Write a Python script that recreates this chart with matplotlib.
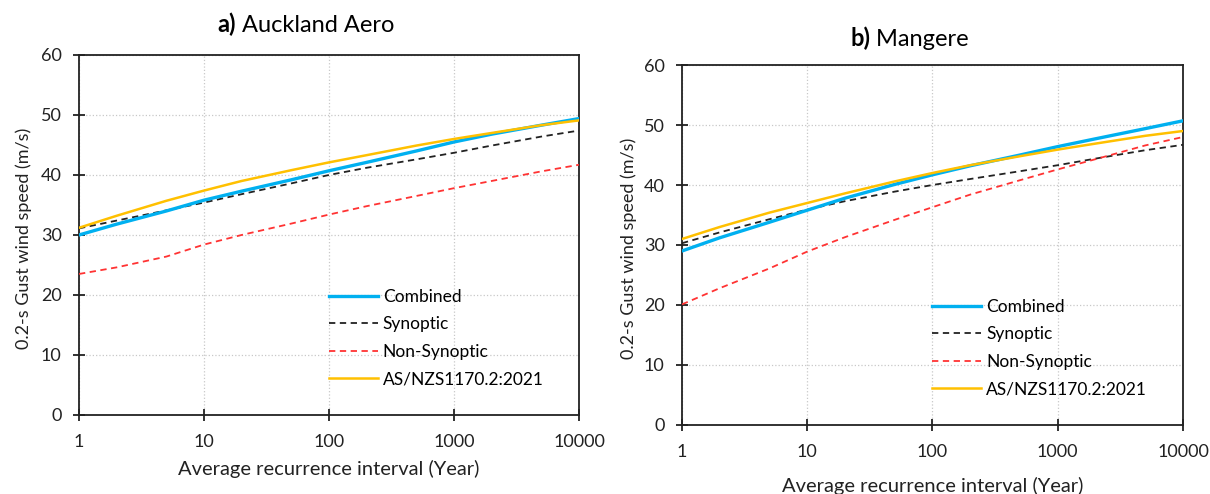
import numpy as np
import matplotlib
matplotlib.use("Agg")
import matplotlib.pyplot as plt

plt.rcParams['font.family'] = ['Lato', 'DejaVu Sans']

# ============================
# data
# ============================
ari = [1, 2, 5, 10, 20, 50, 100, 200, 500, 1000, 2000, 5000, 10000]

# a) Auckland Aero
aa_combined = [30.0, 31.8, 34.0, 35.8, 37.3, 39.2, 40.7, 42.1, 44.0, 45.5, 46.8, 48.3, 49.4]
aa_synoptic = [31.1, 32.4, 34.1, 35.4, 36.8, 38.6, 40.0, 41.2, 42.6, 43.7, 44.9, 46.4, 47.4]
aa_nonsyn = [23.5, 24.6, 26.4, 28.4, 30.0, 31.9, 33.4, 34.8, 36.5, 37.8, 39.0, 40.6, 41.7]
aa_code = [31.2, 33.2, 35.7, 37.4, 39.0, 40.8, 42.1, 43.3, 44.9, 46.0, 47.0, 48.3, 49.1]

# b) Mangere
mg_combined = [29.0, 31.2, 33.8, 35.8, 37.8, 40.1, 41.7, 43.2, 45.0, 46.4, 47.7, 49.4, 50.7]
mg_synoptic = [30.3, 32.1, 34.3, 35.9, 37.3, 38.9, 40.0, 41.0, 42.3, 43.3, 44.4, 45.8, 46.7]
mg_nonsyn = [20.1, 22.8, 26.1, 28.9, 31.3, 34.2, 36.3, 38.4, 40.8, 42.6, 44.3, 46.6, 48.0]
mg_code = [31.0, 33.0, 35.4, 37.0, 38.6, 40.6, 42.0, 43.3, 44.8, 45.9, 46.9, 48.2, 49.0]

x_ticks = [1, 10, 100, 1000, 10000]
y_ticks = [0, 10, 20, 30, 40, 50, 60]

fig = plt.figure(figsize=(12.1, 4.94), dpi=100)
ax1 = fig.add_axes([0.0653, 0.160, 0.4132, 0.7287])
ax2 = fig.add_axes([0.5636, 0.1397, 0.4141, 0.7287])


def draw_panel(ax, comb, syn, nonsyn, code):
    ax.plot(ari, comb, color='#00B0F0', lw=2.4, label='Combined', zorder=4)
    ax.plot(ari, syn, color='#222222', lw=1.3, ls=(0, (3.5, 2.5)), label='Synoptic', zorder=3)
    ax.plot(ari, nonsyn, color='#FF3333', lw=1.3, ls=(0, (3.5, 2.5)), label='Non-Synoptic', zorder=3)
    ax.plot(ari, code, color='#FFC000', lw=1.8, label='AS/NZS1170.2:2021', zorder=5)

    ax.set_xscale('log')
    ax.set_xlim(1, 10000)
    ax.set_ylim(0, 60)
    ax.set_xticks(x_ticks)
    ax.set_xticklabels([str(v) for v in x_ticks])
    ax.xaxis.set_minor_locator(plt.NullLocator())
    ax.set_yticks(y_ticks)
    ax.tick_params(axis='both', direction='inout', length=9, width=1.3,
                   labelsize=13, colors='#222222')
    ax.tick_params(axis='x', pad=9)
    ax.tick_params(axis='y', pad=8)
    ax.grid(True, color='#C8C8C8', ls=':', lw=0.9)
    for s in ax.spines.values():
        s.set_linewidth(1.3)
        s.set_color('#222222')

    ax.set_xlabel('Average recurrence interval (Year)', fontsize=14.5, color='#222222')
    ax.set_ylabel('0.2-s Gust wind speed (m/s)', fontsize=13, color='#222222')

    ax.legend(loc='upper left', bbox_to_anchor=(0.5, 0.35), frameon=False,
              fontsize=12.5, handlelength=2.8, handletextpad=0.3,
              labelspacing=0.66, borderpad=0, borderaxespad=0)


draw_panel(ax1, aa_combined, aa_synoptic, aa_nonsyn, aa_code)
draw_panel(ax2, mg_combined, mg_synoptic, mg_nonsyn, mg_code)
ax1.xaxis.set_label_coords(0.5, -0.125)
ax2.xaxis.set_label_coords(0.5, -0.145)
ax1.yaxis.set_label_coords(-0.094, 0.49)
ax2.yaxis.set_label_coords(-0.090, 0.49)

# panel titles: bold letter, normal station name
t1 = fig.text(0.180, 0.950, 'a)', fontsize=17, fontweight='bold', va='center')
ax1.annotate(' Auckland Aero', xy=(1, 0), xycoords=t1, va='bottom', fontsize=17)
t2 = fig.text(0.7025, 0.922, 'b)', fontsize=17, fontweight='bold', va='center')
ax2.annotate(' Mangere', xy=(1, 0), xycoords=t2, va='bottom', fontsize=17)

fig.savefig('out.png', dpi=100)
